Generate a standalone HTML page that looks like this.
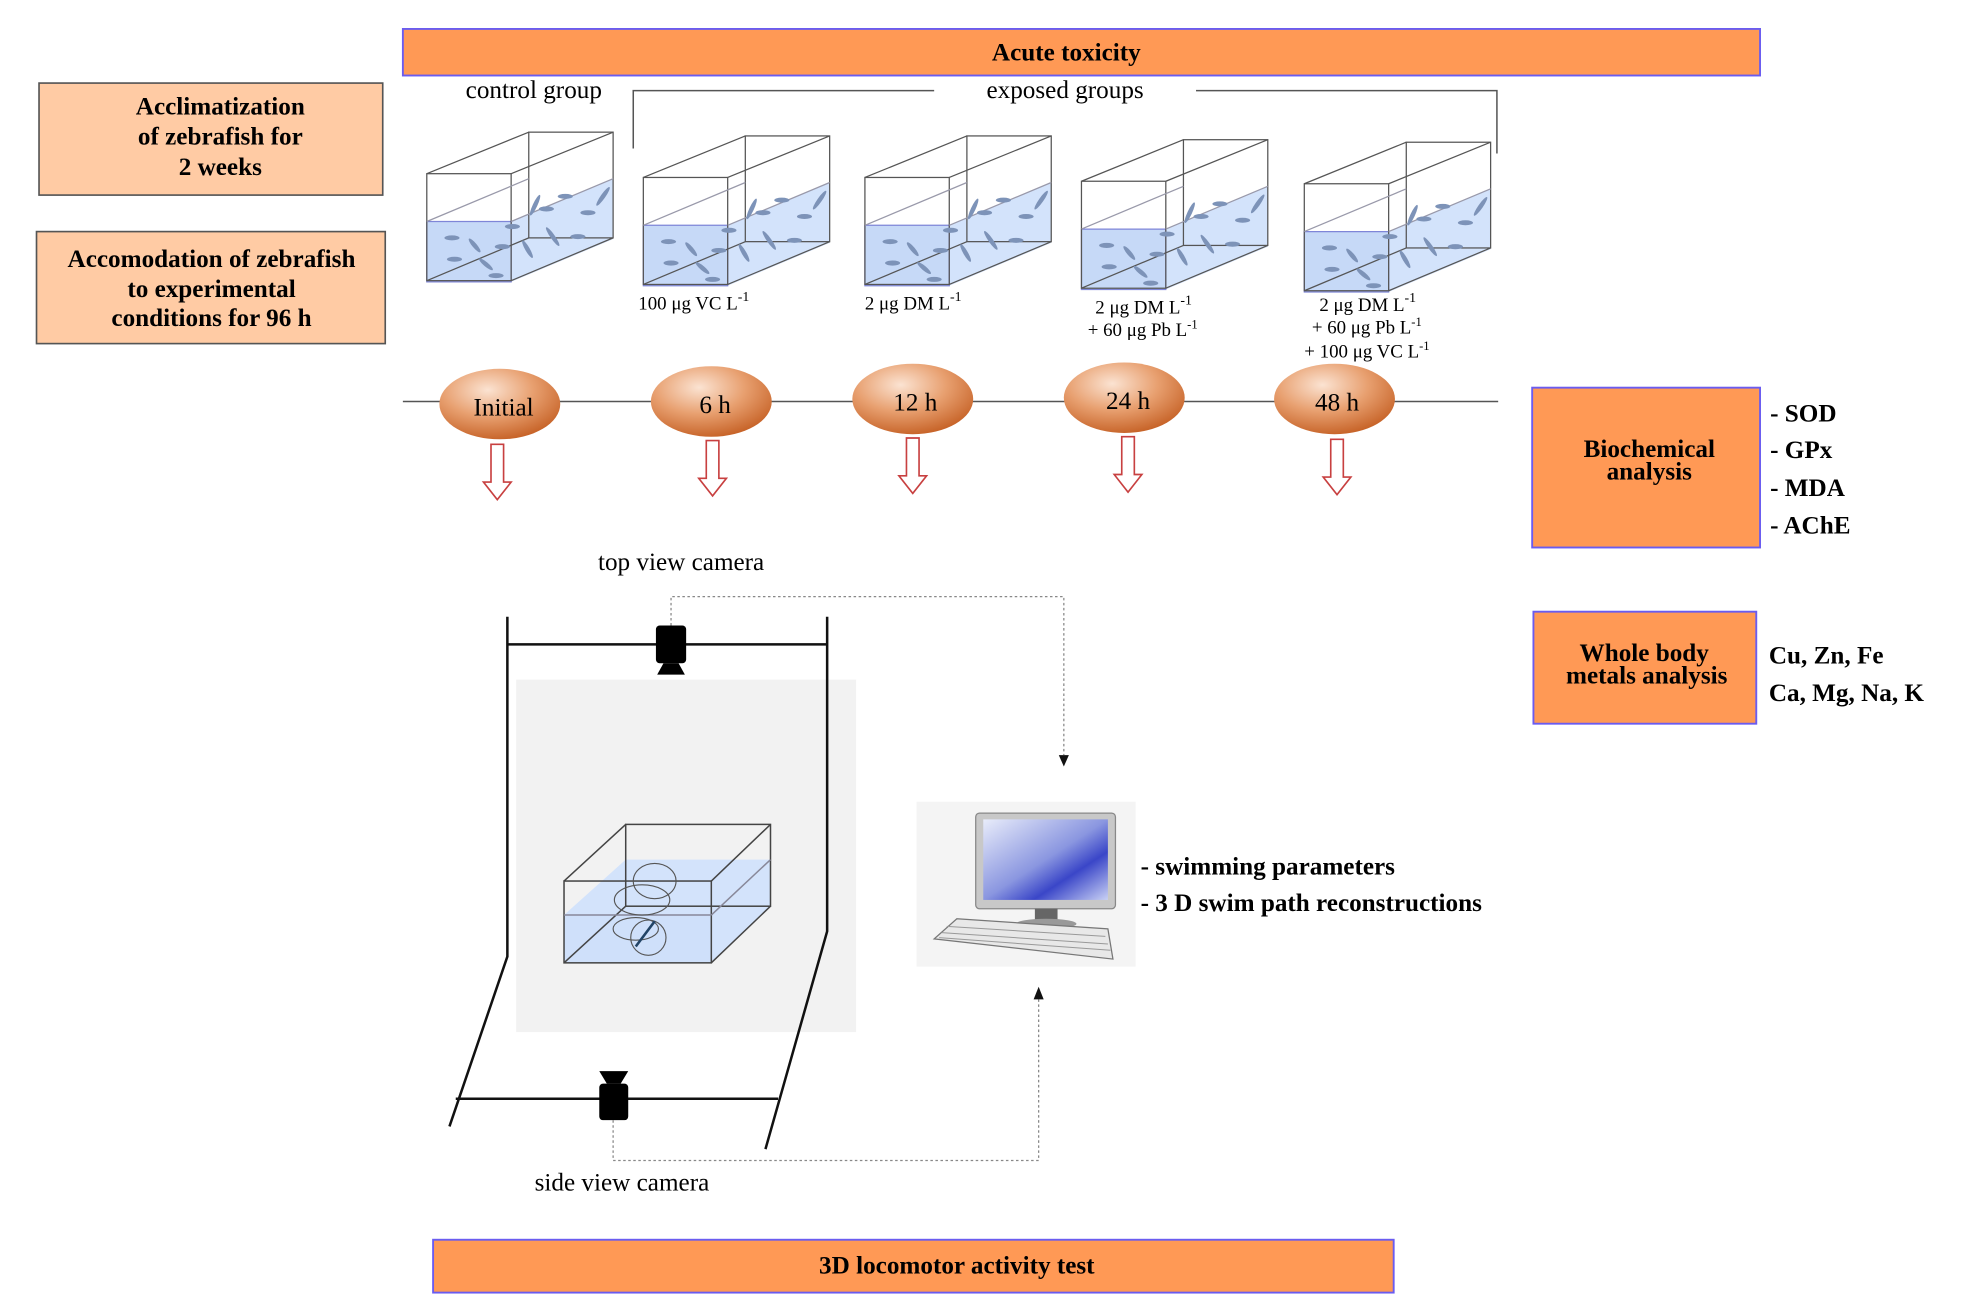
<!DOCTYPE html>
<html><head><meta charset="utf-8"><style>
html,body{margin:0;padding:0;background:#fff;}
svg{display:block;}
text{font-family:"Liberation Serif",serif;}
.b{font-weight:bold;}
</style></head><body>
<svg width="1964" height="1314" viewBox="0 0 1560 1044" preserveAspectRatio="none" xmlns="http://www.w3.org/2000/svg">
<defs>
<radialGradient id="eg" cx="0.4" cy="0.3" r="0.75">
<stop offset="0" stop-color="#fbe3d2"/><stop offset="0.5" stop-color="#e8a070"/><stop offset="1" stop-color="#c45e22"/>
</radialGradient>
<linearGradient id="scr" x1="0" y1="0" x2="1" y2="1">
<stop offset="0" stop-color="#e8ecfa"/><stop offset="0.5" stop-color="#8a96e0"/><stop offset="0.7" stop-color="#3a46c8"/><stop offset="1" stop-color="#c8d0f4"/>
</linearGradient>
<g id="tank">
<polygon points="0,38 67,38 148,4 148,52 67,86 0,86" fill="#d3e3fb"/>
<polygon points="0,38 67,38 67,86 0,86" fill="#c6d9f7" stroke="#7f86d8" stroke-width="1"/>
<g fill="none" stroke="#555" stroke-width="1">
<rect x="0" y="0" width="67" height="85"/>
<rect x="81" y="-33" width="67" height="84"/>
<line x1="0" y1="0" x2="81" y2="-33"/><line x1="67" y1="0" x2="148" y2="-33"/>
<line x1="0" y1="85" x2="81" y2="51"/><line x1="67" y1="85" x2="148" y2="51"/>
<line x1="0" y1="38" x2="81" y2="4" stroke="#99a"/><line x1="67" y1="38" x2="148" y2="4" stroke="#99a"/>
</g>
<g fill="#7d93b8">
<ellipse cx="20" cy="51" rx="6" ry="2"/><ellipse cx="22" cy="68" rx="6" ry="2"/><ellipse cx="55" cy="81" rx="6" ry="2"/>
<ellipse cx="95" cy="28" rx="6" ry="2"/><ellipse cx="110" cy="18" rx="6" ry="2"/><ellipse cx="120" cy="50" rx="6" ry="2"/>
<ellipse cx="60" cy="58" rx="6" ry="2"/><ellipse cx="128" cy="31" rx="6" ry="2"/><ellipse cx="68" cy="42" rx="6" ry="2"/>
<ellipse cx="38" cy="57" rx="7" ry="1.8" transform="rotate(50 38 57)"/><ellipse cx="86" cy="25" rx="9" ry="1.8" transform="rotate(-65 86 25)"/>
<ellipse cx="100" cy="50" rx="9" ry="1.8" transform="rotate(55 100 50)"/><ellipse cx="140" cy="18" rx="9" ry="1.8" transform="rotate(-55 140 18)"/>
<ellipse cx="47" cy="72" rx="7" ry="1.8" transform="rotate(40 47 72)"/><ellipse cx="80" cy="60" rx="8" ry="1.8" transform="rotate(60 80 60)"/>
</g>
</g>
<g id="arr"><polygon points="-5,0 5,0 5,30 11,30 0,44 -11,30 -5,30" fill="#fff" stroke="#c84040" stroke-width="1.3"/></g>
</defs>

<rect x="320" y="23" width="1078" height="37" fill="#FF9955" stroke="#6a5cf0" stroke-width="1.5"/>
<text x="847" y="48" text-anchor="middle" class="b" font-size="20">Acute toxicity</text>

<rect x="31" y="66" width="273" height="89" fill="#FFCBA4" stroke="#555" stroke-width="1.3"/>
<text text-anchor="middle" class="b" font-size="20"><tspan x="175" y="91">Acclimatization</tspan><tspan x="175" y="115">of zebrafish for</tspan><tspan x="175" y="139">2 weeks</tspan></text>
<rect x="29" y="184" width="277" height="89" fill="#FFCBA4" stroke="#555" stroke-width="1.3"/>
<text text-anchor="middle" class="b" font-size="20"><tspan x="168" y="212">Accomodation of zebrafish</tspan><tspan x="168" y="236">to experimental</tspan><tspan x="168" y="259">conditions for 96 h</tspan></text>

<text x="424" y="78" text-anchor="middle" font-size="20">control group</text>
<text x="846" y="78" text-anchor="middle" font-size="20">exposed groups</text>
<polyline points="503,118 503,72 742,72" fill="none" stroke="#555" stroke-width="1.2"/>
<polyline points="950,72 1189,72 1189,122" fill="none" stroke="#555" stroke-width="1.2"/>

<use href="#tank" x="339" y="138"/>
<use href="#tank" x="511" y="141"/>
<use href="#tank" x="687" y="141"/>
<use href="#tank" x="859" y="144"/>
<use href="#tank" x="1036" y="146"/>

<g font-size="15">
<text x="507" y="246">100 μg VC L<tspan dy="-7" font-size="11">-1</tspan></text>
<text x="687" y="246">2 μg DM L<tspan dy="-7" font-size="11">-1</tspan></text>
<text x="870" y="249">2 μg DM L<tspan dy="-7" font-size="11">-1</tspan></text>
<text x="864" y="267">+ 60 μg Pb L<tspan dy="-6" font-size="10">-1</tspan></text>
<text x="1048" y="247">2 μg DM L<tspan dy="-7" font-size="11">-1</tspan></text>
<text x="1042" y="265">+ 60 μg Pb L<tspan dy="-6" font-size="10">-1</tspan></text>
<text x="1036" y="284">+ 100 μg VC L<tspan dy="-6" font-size="10">-1</tspan></text>
</g>

<line x1="320" y1="319" x2="1190" y2="319" stroke="#555" stroke-width="1.2"/>
<g font-size="20" text-anchor="middle">
<ellipse cx="397" cy="321" rx="48" ry="28" fill="url(#eg)"/><text x="400" y="330">Initial</text>
<ellipse cx="565" cy="319" rx="48" ry="28" fill="url(#eg)"/><text x="568" y="328">6 h</text>
<ellipse cx="725" cy="317" rx="48" ry="28" fill="url(#eg)"/><text x="727" y="326">12 h</text>
<ellipse cx="893" cy="316" rx="48" ry="28" fill="url(#eg)"/><text x="896" y="325">24 h</text>
<ellipse cx="1060" cy="317" rx="48" ry="28" fill="url(#eg)"/><text x="1062" y="326">48 h</text>
</g>
<use href="#arr" x="395" y="353"/>
<use href="#arr" x="566" y="350"/>
<use href="#arr" x="725" y="348"/>
<use href="#arr" x="896" y="347"/>
<use href="#arr" x="1062" y="349"/>

<rect x="1217" y="308" width="181" height="127" fill="#FF9955" stroke="#6a5cf0" stroke-width="1.5"/>
<text text-anchor="middle" class="b" font-size="20"><tspan x="1310" y="363">Biochemical</tspan><tspan x="1310" y="381">analysis</tspan></text>
<g class="b" font-size="20">
<text x="1406" y="335">- SOD</text><text x="1406" y="364">- GPx</text><text x="1406" y="394">- MDA</text><text x="1406" y="424">- AChE</text>
</g>
<rect x="1218" y="486" width="177" height="89" fill="#FF9955" stroke="#6a5cf0" stroke-width="1.5"/>
<text text-anchor="middle" class="b" font-size="20"><tspan x="1306" y="525">Whole body</tspan><tspan x="1308" y="543">metals analysis</tspan></text>
<g class="b" font-size="20"><text x="1405" y="527">Cu, Zn, Fe</text><text x="1405" y="557">Ca, Mg, Na, K</text></g>

<text x="541" y="453" text-anchor="middle" font-size="20">top view camera</text>
<rect x="410" y="540" width="270" height="280" fill="#f2f2f2"/>
<g fill="none" stroke="#111" stroke-width="2">
<polyline points="403,490 403,760 357,895"/>
<polyline points="657,490 657,740 608,913"/>
<line x1="403" y1="512" x2="657" y2="512"/>
<line x1="362" y1="873" x2="618" y2="873"/>
</g>
<rect x="521" y="497" width="24" height="30" rx="3" fill="#000"/>
<polygon points="527,527 539,527 544,536 522,536" fill="#000"/>
<rect x="476" y="861" width="23" height="29" rx="3" fill="#000"/>
<polygon points="476,851 499,851 493,861 482,861" fill="#000"/>

<polygon points="448,727 497,683 612,683 612,720 565,765 448,765" fill="#d3e3fb"/>
<rect x="448" y="727" width="117" height="38" fill="#cfe0fa"/>
<g fill="none" stroke="#444" stroke-width="1.2">
<rect x="448" y="700" width="117" height="65"/>
<rect x="497" y="655" width="115" height="65"/>
<line x1="448" y1="700" x2="497" y2="655"/><line x1="565" y1="700" x2="612" y2="655"/>
<line x1="448" y1="765" x2="497" y2="720"/><line x1="565" y1="765" x2="612" y2="720"/>
<line x1="448" y1="727" x2="565" y2="727" stroke="#889"/><line x1="565" y1="727" x2="612" y2="683" stroke="#889"/>
</g>
<g fill="none" stroke="#555" stroke-width="0.9">
<ellipse cx="520" cy="700" rx="17" ry="14"/><ellipse cx="510" cy="715" rx="22" ry="12"/>
<ellipse cx="515" cy="745" rx="14" ry="14"/><ellipse cx="505" cy="738" rx="18" ry="9"/>
<line x1="505" y1="752" x2="520" y2="732" stroke="#246" stroke-width="2"/>
</g>

<g fill="none" stroke="#888" stroke-width="1" stroke-dasharray="2,2">
<polyline points="533,497 533,474 845,474 845,600"/>
<polyline points="487,890 487,922 825,922 825,792"/>
</g>
<polygon points="841,600 849,600 845,609" fill="#111"/>
<polygon points="821,794 829,794 825,784" fill="#111"/>

<rect x="728" y="637" width="174" height="131" fill="#f4f4f4"/>
<rect x="775" y="646" width="111" height="76" rx="3" fill="#c8c8c8" stroke="#888"/>
<rect x="781" y="651" width="99" height="64" fill="url(#scr)"/>
<rect x="822" y="722" width="18" height="10" fill="#666"/>
<ellipse cx="831" cy="734" rx="24" ry="4" fill="#999"/>
<polygon points="760,730 880,738 884,762 742,746" fill="#e8e8e8" stroke="#777"/>
<g stroke="#999" stroke-width="0.8">
<line x1="752" y1="736" x2="878" y2="744"/><line x1="748" y1="741" x2="880" y2="750"/><line x1="746" y1="745" x2="882" y2="755"/>
</g>
<g class="b" font-size="20">
<text x="906" y="695">- swimming parameters</text>
<text x="906" y="724">- 3 D swim path reconstructions</text>
</g>

<text x="494" y="946" text-anchor="middle" font-size="20">side view camera</text>

<rect x="344" y="985" width="763" height="42" fill="#FF9955" stroke="#6a5cf0" stroke-width="1.5"/>
<text x="760" y="1012" text-anchor="middle" class="b" font-size="20">3D  locomotor activity test</text>
</svg>
</body></html>
